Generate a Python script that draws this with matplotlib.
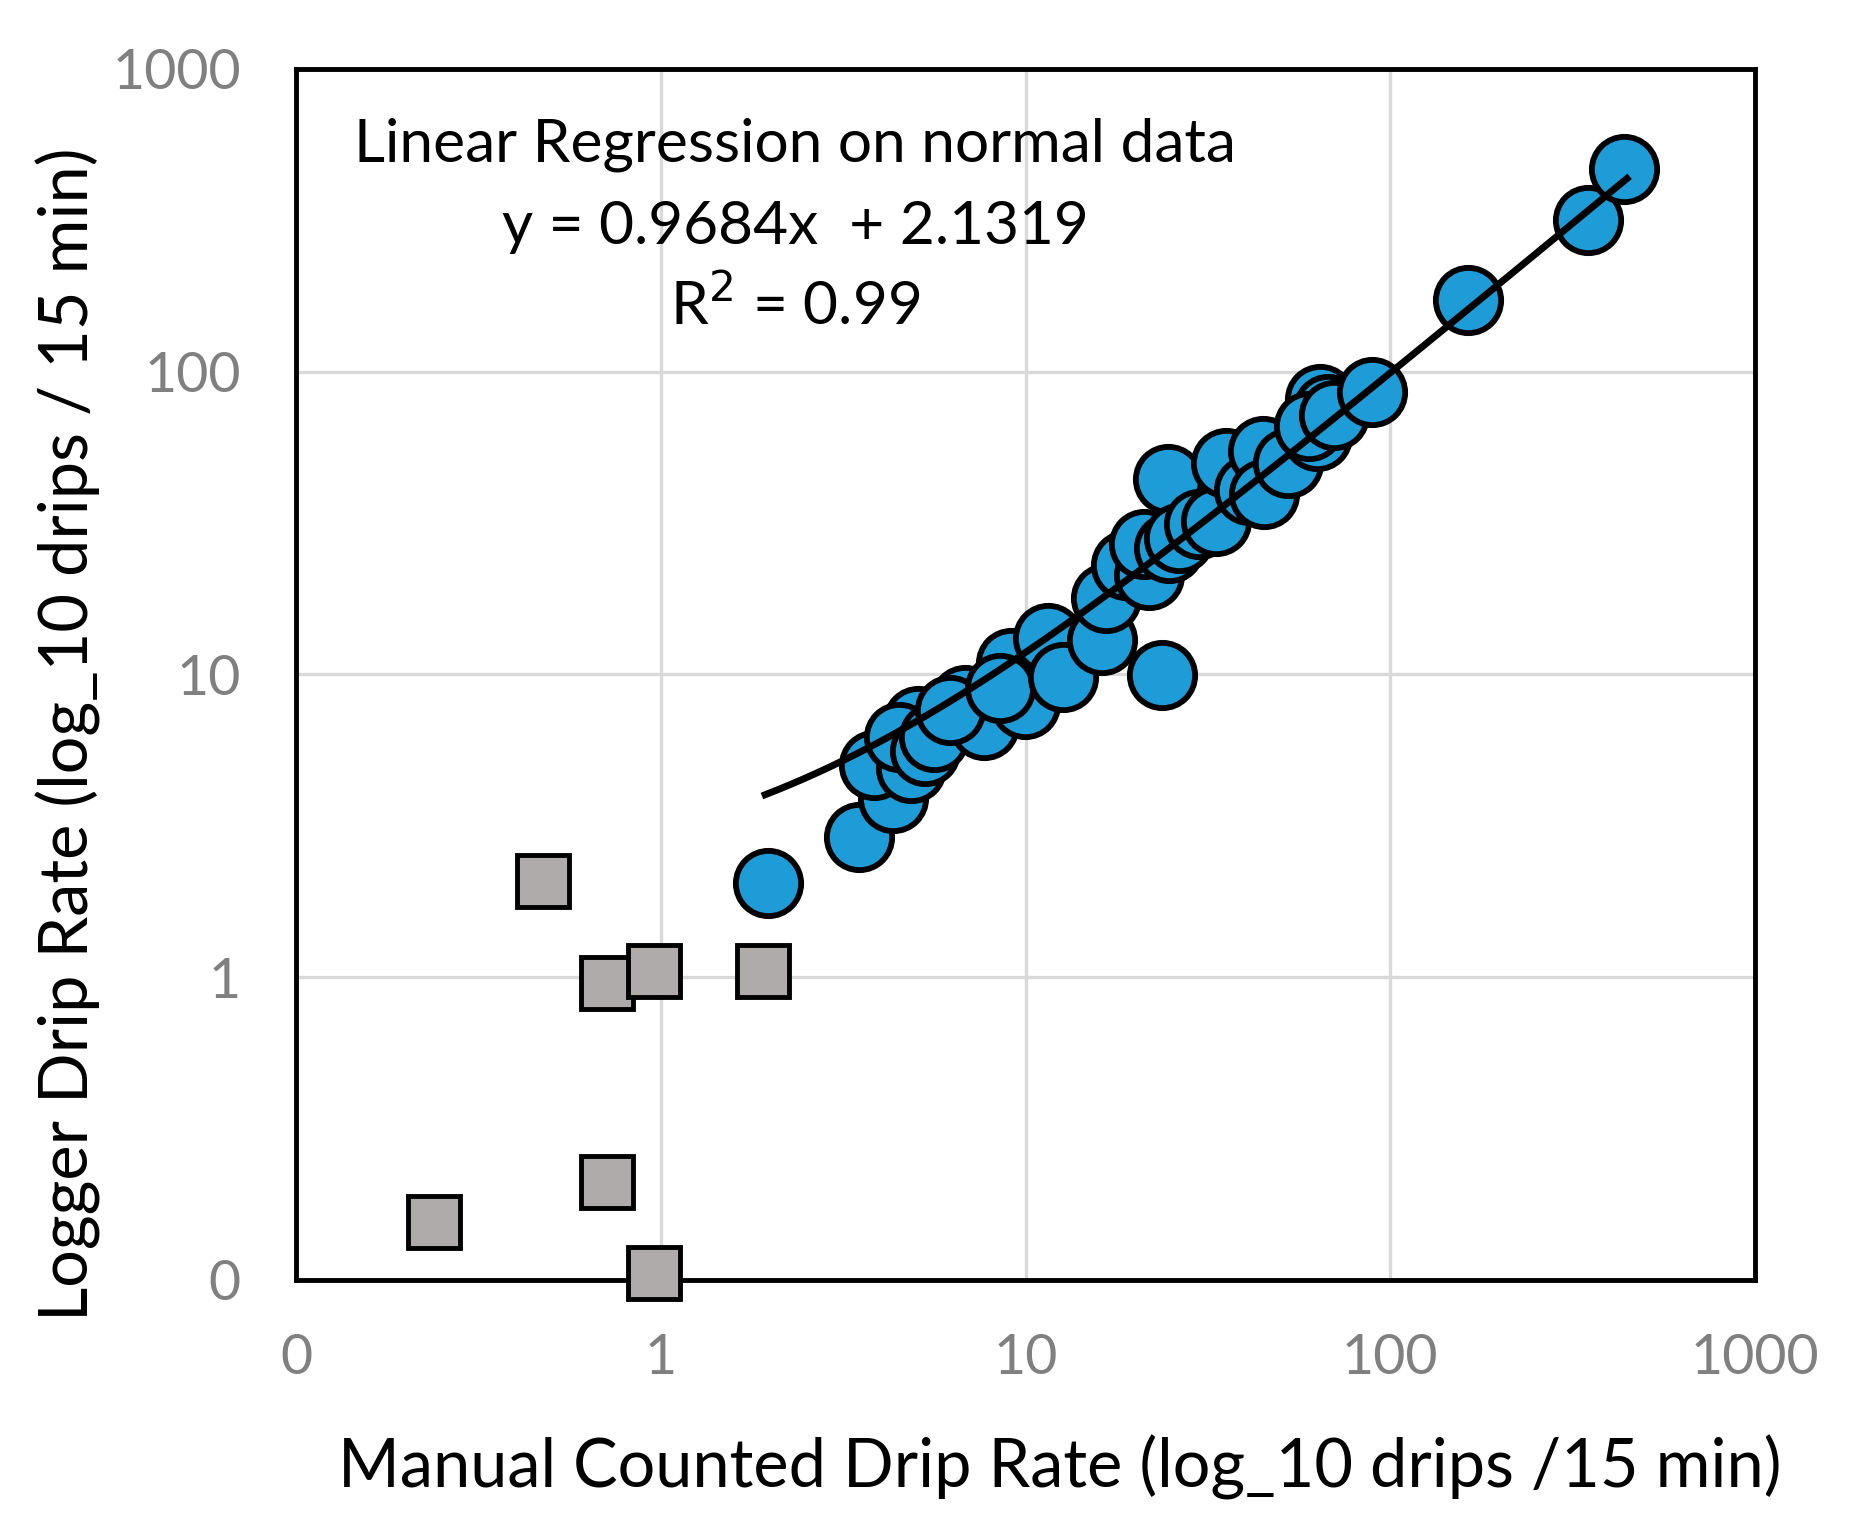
import numpy as np
import matplotlib
matplotlib.use("Agg")
import matplotlib.pyplot as plt

# measured points (normal data) - blue circles
normal_x = [1.96, 3.49, 4.34, 3.84, 4.85, 5.06, 4.5, 5.3, 5.6, 6.8, 7.7, 6.2,
            9.1, 9.96, 8.5, 11.55, 12.7, 16.2, 16.6, 23.7, 24.5, 18.8, 21.8,
            21.1, 24.7, 26.4, 29.9, 33.3, 35.5, 41.1, 44.8, 45.2, 52.5, 62.8,
            64.1, 67.6, 60.0, 70.0, 89.0, 163.0, 349.0, 437.0]
normal_y = [2.04, 2.9, 3.9, 5.0, 4.9, 7.0, 6.2, 5.6, 6.2, 8.2, 6.8, 7.6,
            10.9, 8.0, 9.0, 13.2, 9.8, 13.0, 17.8, 9.95, 44.0, 23.0, 21.3,
            26.9, 26.2, 28.3, 31.3, 32.1, 49.9, 40.6, 54.6, 39.5, 49.9, 61.2,
            81.3, 75.4, 66.0, 72.0, 85.8, 172.0, 317.0, 467.0]

# low drip rate points - grey squares
low_x = [0.238, 0.473, 0.709, 0.709, 0.956, 0.956, 1.90]
low_y = [0.155, 2.08, 0.955, 0.21, 1.046, 0.105, 1.046]

# regression on normal data (from the chart text)
fit_slope = 0.9684
fit_intercept = 2.1319
fit_x_range = [1.93, 446.0]

tick_values = [0.1, 1, 10, 100, 1000]
tick_labels = ["0", "1", "10", "100", "1000"]

FONT = ["Lato", "DejaVu Sans"]
plt.rcParams["font.family"] = FONT


def main():
    fig = plt.figure(figsize=(18.53, 15.29), dpi=100)
    ax = fig.add_axes([0.160, 0.163, 0.787, 0.792])

    ax.set_xscale("log")
    ax.set_yscale("log")
    ax.set_xlim(0.1, 1000)
    ax.set_ylim(0.1, 1000)

    ax.grid(True, which="major", color="#D9D9D9", linewidth=2.4, zorder=0)
    ax.minorticks_off()
    ax.set_xticks(tick_values)
    ax.set_xticklabels(tick_labels)
    ax.set_yticks(tick_values)
    ax.set_yticklabels(tick_labels)
    ax.tick_params(axis="both", length=0, labelsize=40, labelcolor="#808080")
    ax.tick_params(axis="x", pad=38)
    ax.tick_params(axis="y", pad=40)
    for sp in ax.spines.values():
        sp.set_linewidth(3.5)
        sp.set_color("black")

    ax.plot(low_x, low_y, linestyle="none", marker="s", markersize=37,
            markerfacecolor="#AFABAB", markeredgecolor="black",
            markeredgewidth=3.5, zorder=4, clip_on=False)

    ax.plot(normal_x, normal_y, linestyle="none", marker="o", markersize=47,
            markerfacecolor="#1E9CD7", markeredgecolor="black",
            markeredgewidth=4.2, zorder=5, clip_on=False)

    fx = np.geomspace(fit_x_range[0], fit_x_range[1], 200)
    fy = fit_slope * fx + fit_intercept
    ax.plot(fx, fy, color="black", linewidth=5, zorder=6)

    ax.text(0.342, 0.937, "Linear Regression on normal data", transform=ax.transAxes,
            ha="center", va="center", fontsize=43.5, color="black")
    ax.text(0.342, 0.869, "y = %.4fx  + %.4f" % (fit_slope, fit_intercept),
            transform=ax.transAxes, ha="center", va="center", fontsize=43.5)
    ax.text(0.342, 0.804, "R$^2$ = 0.99", transform=ax.transAxes,
            ha="center", va="center", fontsize=43.5)

    fig.text(0.572, 0.040, "Manual Counted Drip Rate (log_10 drips /15 min)",
             ha="center", va="center", fontsize=48)
    fig.text(0.037, 0.52, "Logger Drip Rate (log_10 drips / 15 min)",
             ha="center", va="center", rotation=90, fontsize=48)

    fig.savefig("out.png", dpi=100)


if __name__ == "__main__":
    main()
